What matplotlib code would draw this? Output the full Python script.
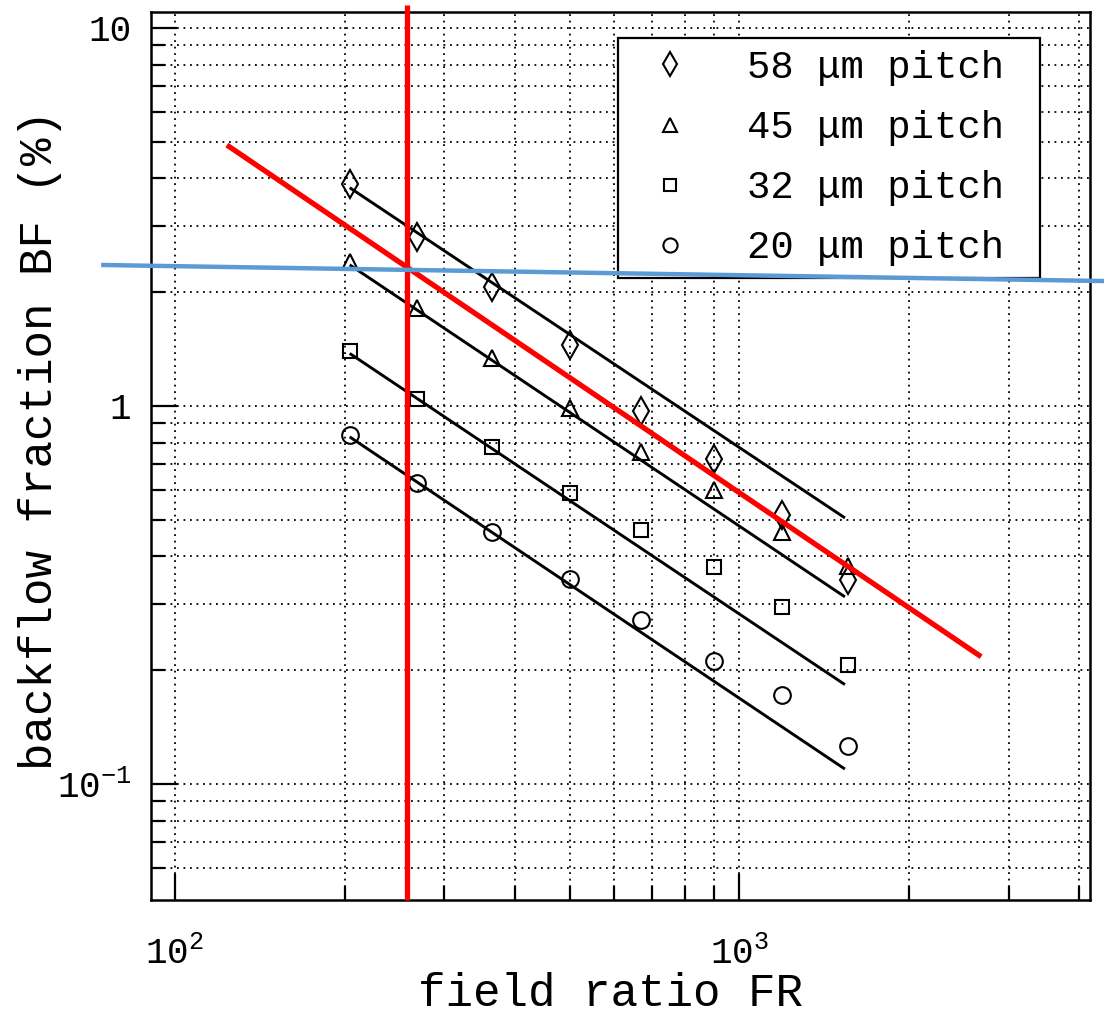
import matplotlib
matplotlib.use("Agg")
import matplotlib.pyplot as plt
from matplotlib.ticker import FixedLocator, FixedFormatter, NullFormatter

plt.rcParams['font.family'] = ['Liberation Mono', 'DejaVu Sans']
plt.rcParams['mathtext.fontset'] = 'custom'
plt.rcParams['mathtext.rm'] = 'Liberation Mono'

# ---------------- data ----------------
field_ratio = [204, 268, 364, 500, 670, 900, 1190, 1560]

bf_58um = [3.87, 2.79, 2.06, 1.45, 0.97, 0.724, 0.515, 0.347]
bf_45um = [2.40, 1.82, 1.34, 0.99, 0.755, 0.60, 0.464, 0.377]
bf_32um = [1.40, 1.04, 0.78, 0.59, 0.469, 0.375, 0.294, 0.206]
bf_20um = [0.838, 0.627, 0.463, 0.348, 0.271, 0.211, 0.172, 0.126]

fit_x = [205, 1530]
fit_58um = [3.76, 0.508]
fit_45um = [2.35, 0.314]
fit_32um = [1.37, 0.184]
fit_20um = [0.824, 0.110]

labels = ['58 \u03bcm pitch ', '45 \u03bcm pitch ', '32 \u03bcm pitch ', '20 \u03bcm pitch ']

# overlay annotation lines (drawn on top of the scanned chart)
red_vline_x = [258, 258]
red_vline_y = [0.0493, 11.5]
red_diag_x = [123.6, 2680]
red_diag_y = [4.90, 0.217]
blue_line_x = [74, 4427]
blue_line_y = [2.36, 2.14]

x_major = [100, 1000]
x_major_labels = [r'$\mathregular{10^{2}}$', r'$\mathregular{10^{3}}$']
x_minor = [200, 300, 400, 500, 600, 700, 800, 900, 2000, 3000, 4000]
y_major = [0.1, 1, 10]
y_major_labels = [r'$\mathregular{10^{-1}}$', '1', '10']
y_minor = [0.06, 0.07, 0.08, 0.09, 0.2, 0.3, 0.4, 0.5, 0.6, 0.7, 0.8, 0.9,
           2, 3, 4, 5, 6, 7, 8, 9]

# ---------------- figure ----------------
W, H = 1104, 1018
fig = plt.figure(figsize=(W / 100, H / 100), dpi=100)
L, R, T, B = 151, 1090, 12, 900
ax = fig.add_axes([L / W, 1 - B / H, (R - L) / W, (B - T) / H])
ax.set_xscale('log')
ax.set_yscale('log')
ax.set_xlim(90.7, 4178)
ax.set_ylim(0.0493, 11.02)

for s in ax.spines.values():
    s.set_linewidth(1.8)
    s.set_color('black')

ax.xaxis.set_major_locator(FixedLocator(x_major))
ax.xaxis.set_major_formatter(FixedFormatter(x_major_labels))
ax.xaxis.set_minor_locator(FixedLocator(x_minor))
ax.xaxis.set_minor_formatter(NullFormatter())
ax.yaxis.set_major_locator(FixedLocator(y_major))
ax.yaxis.set_major_formatter(FixedFormatter(y_major_labels))
ax.yaxis.set_minor_locator(FixedLocator(y_minor))
ax.yaxis.set_minor_formatter(NullFormatter())

ax.tick_params(which='major', direction='in', length=19, width=1.6,
               labelsize=26, colors='black')
ax.tick_params(which='minor', direction='in', length=10, width=1.6)
ax.tick_params(axis='x', which='major', pad=26)
ax.tick_params(axis='y', which='major', pad=14)

ax.grid(True, which='both', color='black', linestyle=(0, (1, 2.6)), linewidth=1.3)
ax.set_axisbelow(True)

mk = dict(linestyle='none', markerfacecolor='none', markeredgecolor='black',
          markeredgewidth=1.5)
series = [
    (bf_58um, fit_58um, 'd', 14),
    (bf_45um, fit_45um, '^', 12),
    (bf_32um, fit_32um, 's', 10.5),
    (bf_20um, fit_20um, 'o', 12),
]
handles = []
for (vals, fit, m, ms), lab in zip(series, labels):
    ax.plot(fit_x, fit, color='black', linewidth=2.1, zorder=3)
    h, = ax.plot(field_ratio, vals, marker=m, markersize=ms, label=lab,
                 zorder=4, **mk)
    handles.append(h)

leg = ax.legend(handles=handles, loc='upper right',
                bbox_to_anchor=((1040 - L) / (R - L), (B - 38) / (B - T)),
                borderaxespad=0, fontsize=28, frameon=True, fancybox=False,
                edgecolor='black', framealpha=1, handlelength=2.1,
                handletextpad=0.93, labelspacing=0.62, borderpad=0.31,
                markerscale=0.85)
leg.get_frame().set_linewidth(1.6)
leg.set_zorder(5)

ax.set_xlabel('field ratio FR', fontsize=33)
ax.xaxis.label.set_va('baseline')
ax.xaxis.set_label_coords((610 - L) / (R - L), (B - 1006) / (B - T))
ax.set_ylabel('backflow fraction BF (%)', fontsize=33)
ax.yaxis.label.set_va('baseline')
ax.yaxis.set_label_coords((52 - L) / (R - L), (B - 440) / (B - T))

# overlay annotation lines
ax.plot(red_vline_x, red_vline_y, color='#FF0000', linewidth=3.8,
        clip_on=False, zorder=6, solid_capstyle='butt')
ax.plot(red_diag_x, red_diag_y, color='#FF0000', linewidth=3.8,
        clip_on=False, zorder=6, solid_capstyle='butt')
ax.plot(blue_line_x, blue_line_y, color='#5B9BD5', linewidth=3.2,
        clip_on=False, zorder=7, solid_capstyle='butt')

fig.savefig('out.png', dpi=100)
